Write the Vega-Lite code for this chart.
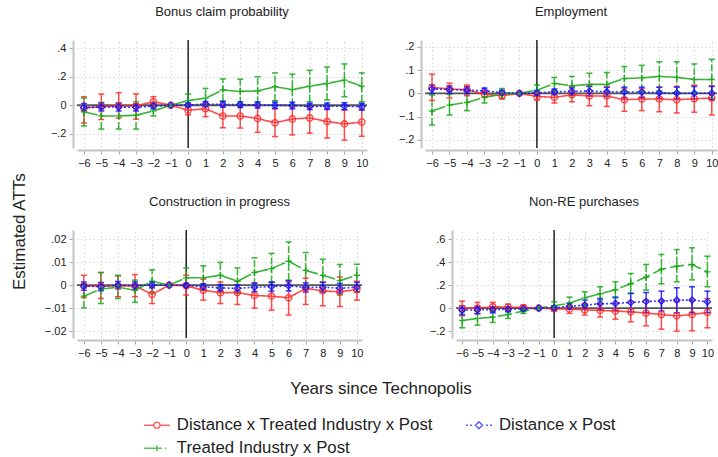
{
  "$schema": "https://vega.github.io/schema/vega-lite/v6.json",
  "padding": {"left": 11, "top": 6, "right": 2, "bottom": 0},
  "background": "white",
  "datasets": {
    "d": [
      {"panel": "bonus", "series": "Distance x Treated Industry x Post", "year": -6, "est": -0.02, "lo": -0.125, "hi": 0.06},
      {"panel": "bonus", "series": "Distance x Treated Industry x Post", "year": -5, "est": -0.01, "lo": -0.1, "hi": 0.079},
      {"panel": "bonus", "series": "Distance x Treated Industry x Post", "year": -4, "est": -0.005, "lo": -0.09, "hi": 0.088},
      {"panel": "bonus", "series": "Distance x Treated Industry x Post", "year": -3, "est": -0.005, "lo": -0.097, "hi": 0.08},
      {"panel": "bonus", "series": "Distance x Treated Industry x Post", "year": -2, "est": 0.025, "lo": -0.014, "hi": 0.06},
      {"panel": "bonus", "series": "Distance x Treated Industry x Post", "year": -1, "est": 0},
      {"panel": "bonus", "series": "Distance x Treated Industry x Post", "year": 0, "est": -0.035, "lo": -0.067, "hi": -0.005},
      {"panel": "bonus", "series": "Distance x Treated Industry x Post", "year": 1, "est": -0.025, "lo": -0.08, "hi": 0.01},
      {"panel": "bonus", "series": "Distance x Treated Industry x Post", "year": 2, "est": -0.075, "lo": -0.158, "hi": 0.005},
      {"panel": "bonus", "series": "Distance x Treated Industry x Post", "year": 3, "est": -0.075, "lo": -0.16, "hi": 0.01},
      {"panel": "bonus", "series": "Distance x Treated Industry x Post", "year": 4, "est": -0.093, "lo": -0.19, "hi": -0.005},
      {"panel": "bonus", "series": "Distance x Treated Industry x Post", "year": 5, "est": -0.123, "lo": -0.22, "hi": -0.025},
      {"panel": "bonus", "series": "Distance x Treated Industry x Post", "year": 6, "est": -0.096, "lo": -0.208, "hi": -0.01},
      {"panel": "bonus", "series": "Distance x Treated Industry x Post", "year": 7, "est": -0.089, "lo": -0.196, "hi": -0.012},
      {"panel": "bonus", "series": "Distance x Treated Industry x Post", "year": 8, "est": -0.114, "lo": -0.23, "hi": -0.025},
      {"panel": "bonus", "series": "Distance x Treated Industry x Post", "year": 9, "est": -0.131, "lo": -0.245, "hi": -0.035},
      {"panel": "bonus", "series": "Distance x Treated Industry x Post", "year": 10, "est": -0.118, "lo": -0.218, "hi": -0.028},
      {"panel": "bonus", "series": "Treated Industry x Post", "year": -6, "est": -0.046, "lo": -0.145, "hi": 0.05},
      {"panel": "bonus", "series": "Treated Industry x Post", "year": -5, "est": -0.075, "lo": -0.167, "hi": 0.02},
      {"panel": "bonus", "series": "Treated Industry x Post", "year": -4, "est": -0.075, "lo": -0.167, "hi": 0.015},
      {"panel": "bonus", "series": "Treated Industry x Post", "year": -3, "est": -0.07, "lo": -0.167, "hi": 0.025},
      {"panel": "bonus", "series": "Treated Industry x Post", "year": -2, "est": -0.04, "lo": -0.075, "hi": 0.0},
      {"panel": "bonus", "series": "Treated Industry x Post", "year": -1, "est": 0},
      {"panel": "bonus", "series": "Treated Industry x Post", "year": 0, "est": 0.033, "lo": -0.01, "hi": 0.079},
      {"panel": "bonus", "series": "Treated Industry x Post", "year": 1, "est": 0.05, "lo": 0.0, "hi": 0.118},
      {"panel": "bonus", "series": "Treated Industry x Post", "year": 2, "est": 0.107, "lo": 0.03, "hi": 0.185},
      {"panel": "bonus", "series": "Treated Industry x Post", "year": 3, "est": 0.097, "lo": 0.01, "hi": 0.183},
      {"panel": "bonus", "series": "Treated Industry x Post", "year": 4, "est": 0.1, "lo": 0.014, "hi": 0.2},
      {"panel": "bonus", "series": "Treated Industry x Post", "year": 5, "est": 0.13, "lo": 0.032, "hi": 0.227},
      {"panel": "bonus", "series": "Treated Industry x Post", "year": 6, "est": 0.11, "lo": 0.0, "hi": 0.218},
      {"panel": "bonus", "series": "Treated Industry x Post", "year": 7, "est": 0.134, "lo": 0.025, "hi": 0.245},
      {"panel": "bonus", "series": "Treated Industry x Post", "year": 8, "est": 0.153, "lo": 0.037, "hi": 0.268},
      {"panel": "bonus", "series": "Treated Industry x Post", "year": 9, "est": 0.176, "lo": 0.06, "hi": 0.29},
      {"panel": "bonus", "series": "Treated Industry x Post", "year": 10, "est": 0.134, "lo": 0.025, "hi": 0.227},
      {"panel": "bonus", "series": "Distance x Post", "year": -6, "est": -0.015, "lo": -0.04, "hi": 0.012},
      {"panel": "bonus", "series": "Distance x Post", "year": -5, "est": -0.012, "lo": -0.04, "hi": 0.015},
      {"panel": "bonus", "series": "Distance x Post", "year": -4, "est": -0.012, "lo": -0.04, "hi": 0.015},
      {"panel": "bonus", "series": "Distance x Post", "year": -3, "est": -0.015, "lo": -0.04, "hi": 0.01},
      {"panel": "bonus", "series": "Distance x Post", "year": -2, "est": -0.005, "lo": -0.025, "hi": 0.015},
      {"panel": "bonus", "series": "Distance x Post", "year": -1, "est": 0},
      {"panel": "bonus", "series": "Distance x Post", "year": 0, "est": 0.002, "lo": -0.012, "hi": 0.016},
      {"panel": "bonus", "series": "Distance x Post", "year": 1, "est": 0.008, "lo": -0.01, "hi": 0.026},
      {"panel": "bonus", "series": "Distance x Post", "year": 2, "est": 0.006, "lo": -0.014, "hi": 0.026},
      {"panel": "bonus", "series": "Distance x Post", "year": 3, "est": 0.004, "lo": -0.016, "hi": 0.024},
      {"panel": "bonus", "series": "Distance x Post", "year": 4, "est": 0.002, "lo": -0.02, "hi": 0.024},
      {"panel": "bonus", "series": "Distance x Post", "year": 5, "est": 0.0, "lo": -0.022, "hi": 0.022},
      {"panel": "bonus", "series": "Distance x Post", "year": 6, "est": -0.002, "lo": -0.025, "hi": 0.021},
      {"panel": "bonus", "series": "Distance x Post", "year": 7, "est": -0.008, "lo": -0.03, "hi": 0.014},
      {"panel": "bonus", "series": "Distance x Post", "year": 8, "est": -0.007, "lo": -0.03, "hi": 0.016},
      {"panel": "bonus", "series": "Distance x Post", "year": 9, "est": -0.006, "lo": -0.03, "hi": 0.018},
      {"panel": "bonus", "series": "Distance x Post", "year": 10, "est": -0.01, "lo": -0.034, "hi": 0.014},

      {"panel": "emp", "series": "Distance x Treated Industry x Post", "year": -6, "est": 0.026, "lo": -0.03, "hi": 0.083},
      {"panel": "emp", "series": "Distance x Treated Industry x Post", "year": -5, "est": 0.019, "lo": -0.02, "hi": 0.044},
      {"panel": "emp", "series": "Distance x Treated Industry x Post", "year": -4, "est": 0.016, "lo": -0.01, "hi": 0.036},
      {"panel": "emp", "series": "Distance x Treated Industry x Post", "year": -3, "est": -0.003, "lo": -0.017, "hi": 0.011},
      {"panel": "emp", "series": "Distance x Treated Industry x Post", "year": -2, "est": -0.01, "lo": -0.024, "hi": 0.004},
      {"panel": "emp", "series": "Distance x Treated Industry x Post", "year": -1, "est": 0},
      {"panel": "emp", "series": "Distance x Treated Industry x Post", "year": 0, "est": -0.013, "lo": -0.029, "hi": 0.004},
      {"panel": "emp", "series": "Distance x Treated Industry x Post", "year": 1, "est": -0.017, "lo": -0.041, "hi": 0.011},
      {"panel": "emp", "series": "Distance x Treated Industry x Post", "year": 2, "est": -0.006, "lo": -0.036, "hi": 0.03},
      {"panel": "emp", "series": "Distance x Treated Industry x Post", "year": 3, "est": -0.011, "lo": -0.053, "hi": 0.036},
      {"panel": "emp", "series": "Distance x Treated Industry x Post", "year": 4, "est": -0.011, "lo": -0.056, "hi": 0.03},
      {"panel": "emp", "series": "Distance x Treated Industry x Post", "year": 5, "est": -0.027, "lo": -0.077, "hi": 0.021},
      {"panel": "emp", "series": "Distance x Treated Industry x Post", "year": 6, "est": -0.024, "lo": -0.074, "hi": 0.021},
      {"panel": "emp", "series": "Distance x Treated Industry x Post", "year": 7, "est": -0.024, "lo": -0.079, "hi": 0.026},
      {"panel": "emp", "series": "Distance x Treated Industry x Post", "year": 8, "est": -0.027, "lo": -0.084, "hi": 0.03},
      {"panel": "emp", "series": "Distance x Treated Industry x Post", "year": 9, "est": -0.023, "lo": -0.081, "hi": 0.036},
      {"panel": "emp", "series": "Distance x Treated Industry x Post", "year": 10, "est": -0.02, "lo": -0.093, "hi": 0.033},
      {"panel": "emp", "series": "Treated Industry x Post", "year": -6, "est": -0.076, "lo": -0.136, "hi": -0.007},
      {"panel": "emp", "series": "Treated Industry x Post", "year": -5, "est": -0.05, "lo": -0.093, "hi": -0.003},
      {"panel": "emp", "series": "Treated Industry x Post", "year": -4, "est": -0.039, "lo": -0.074, "hi": -0.001},
      {"panel": "emp", "series": "Treated Industry x Post", "year": -3, "est": -0.017, "lo": -0.041, "hi": 0.004},
      {"panel": "emp", "series": "Treated Industry x Post", "year": -2, "est": -0.003, "lo": -0.021, "hi": 0.021},
      {"panel": "emp", "series": "Treated Industry x Post", "year": -1, "est": 0},
      {"panel": "emp", "series": "Treated Industry x Post", "year": 0, "est": 0.014, "lo": -0.01, "hi": 0.036},
      {"panel": "emp", "series": "Treated Industry x Post", "year": 1, "est": 0.043, "lo": 0.011, "hi": 0.069},
      {"panel": "emp", "series": "Treated Industry x Post", "year": 2, "est": 0.033, "lo": -0.01, "hi": 0.073},
      {"panel": "emp", "series": "Treated Industry x Post", "year": 3, "est": 0.039, "lo": -0.01, "hi": 0.087},
      {"panel": "emp", "series": "Treated Industry x Post", "year": 4, "est": 0.039, "lo": -0.013, "hi": 0.09},
      {"panel": "emp", "series": "Treated Industry x Post", "year": 5, "est": 0.064, "lo": 0.011, "hi": 0.116},
      {"panel": "emp", "series": "Treated Industry x Post", "year": 6, "est": 0.067, "lo": 0.011, "hi": 0.121},
      {"panel": "emp", "series": "Treated Industry x Post", "year": 7, "est": 0.073, "lo": 0.011, "hi": 0.136},
      {"panel": "emp", "series": "Treated Industry x Post", "year": 8, "est": 0.069, "lo": 0.007, "hi": 0.136},
      {"panel": "emp", "series": "Treated Industry x Post", "year": 9, "est": 0.06, "lo": 0.001, "hi": 0.127},
      {"panel": "emp", "series": "Treated Industry x Post", "year": 10, "est": 0.06, "lo": -0.021, "hi": 0.147},
      {"panel": "emp", "series": "Distance x Post", "year": -6, "est": 0.019, "lo": 0.0, "hi": 0.036},
      {"panel": "emp", "series": "Distance x Post", "year": -5, "est": 0.017, "lo": 0.0, "hi": 0.033},
      {"panel": "emp", "series": "Distance x Post", "year": -4, "est": 0.014, "lo": -0.001, "hi": 0.029},
      {"panel": "emp", "series": "Distance x Post", "year": -3, "est": 0.011, "lo": 0.0, "hi": 0.023},
      {"panel": "emp", "series": "Distance x Post", "year": -2, "est": 0.004, "lo": -0.006, "hi": 0.013},
      {"panel": "emp", "series": "Distance x Post", "year": -1, "est": 0},
      {"panel": "emp", "series": "Distance x Post", "year": 0, "est": 0.002, "lo": -0.01, "hi": 0.011},
      {"panel": "emp", "series": "Distance x Post", "year": 1, "est": 0.007, "lo": -0.006, "hi": 0.019},
      {"panel": "emp", "series": "Distance x Post", "year": 2, "est": 0.009, "lo": -0.007, "hi": 0.024},
      {"panel": "emp", "series": "Distance x Post", "year": 3, "est": 0.01, "lo": -0.01, "hi": 0.03},
      {"panel": "emp", "series": "Distance x Post", "year": 4, "est": 0.007, "lo": -0.013, "hi": 0.026},
      {"panel": "emp", "series": "Distance x Post", "year": 5, "est": 0.006, "lo": -0.019, "hi": 0.027},
      {"panel": "emp", "series": "Distance x Post", "year": 6, "est": 0.006, "lo": -0.019, "hi": 0.027},
      {"panel": "emp", "series": "Distance x Post", "year": 7, "est": 0.003, "lo": -0.021, "hi": 0.027},
      {"panel": "emp", "series": "Distance x Post", "year": 8, "est": 0.001, "lo": -0.024, "hi": 0.027},
      {"panel": "emp", "series": "Distance x Post", "year": 9, "est": 0.001, "lo": -0.024, "hi": 0.03},
      {"panel": "emp", "series": "Distance x Post", "year": 10, "est": 0.001, "lo": -0.027, "hi": 0.03},

      {"panel": "cip", "series": "Distance x Treated Industry x Post", "year": -6, "est": -0.0003, "lo": -0.0054, "hi": 0.0043},
      {"panel": "cip", "series": "Distance x Treated Industry x Post", "year": -5, "est": -0.0004, "lo": -0.0058, "hi": 0.0055},
      {"panel": "cip", "series": "Distance x Treated Industry x Post", "year": -4, "est": -0.0003, "lo": -0.005, "hi": 0.004},
      {"panel": "cip", "series": "Distance x Treated Industry x Post", "year": -3, "est": -0.0003, "lo": -0.005, "hi": 0.0046},
      {"panel": "cip", "series": "Distance x Treated Industry x Post", "year": -2, "est": -0.004, "lo": -0.008, "hi": -0.0005},
      {"panel": "cip", "series": "Distance x Treated Industry x Post", "year": -1, "est": 0},
      {"panel": "cip", "series": "Distance x Treated Industry x Post", "year": 0, "est": -0.0003, "lo": -0.0043, "hi": 0.0043},
      {"panel": "cip", "series": "Distance x Treated Industry x Post", "year": 1, "est": -0.0022, "lo": -0.0065, "hi": 0.0026},
      {"panel": "cip", "series": "Distance x Treated Industry x Post", "year": 2, "est": -0.0033, "lo": -0.008, "hi": 0.0014},
      {"panel": "cip", "series": "Distance x Treated Industry x Post", "year": 3, "est": -0.0032, "lo": -0.0084, "hi": 0.0017},
      {"panel": "cip", "series": "Distance x Treated Industry x Post", "year": 4, "est": -0.0045, "lo": -0.01, "hi": 0.0007},
      {"panel": "cip", "series": "Distance x Treated Industry x Post", "year": 5, "est": -0.0048, "lo": -0.0109, "hi": 0.0012},
      {"panel": "cip", "series": "Distance x Treated Industry x Post", "year": 6, "est": -0.0055, "lo": -0.013, "hi": 0.0014},
      {"panel": "cip", "series": "Distance x Treated Industry x Post", "year": 7, "est": -0.0014, "lo": -0.0084, "hi": 0.003},
      {"panel": "cip", "series": "Distance x Treated Industry x Post", "year": 8, "est": -0.0025, "lo": -0.009, "hi": 0.0014},
      {"panel": "cip", "series": "Distance x Treated Industry x Post", "year": 9, "est": -0.0029, "lo": -0.0093, "hi": 0.0036},
      {"panel": "cip", "series": "Distance x Treated Industry x Post", "year": 10, "est": -0.0019, "lo": -0.0065, "hi": 0.0017},
      {"panel": "cip", "series": "Treated Industry x Post", "year": -6, "est": -0.0048, "lo": -0.0099, "hi": 0.0006},
      {"panel": "cip", "series": "Treated Industry x Post", "year": -5, "est": -0.0017, "lo": -0.008, "hi": 0.0055},
      {"panel": "cip", "series": "Treated Industry x Post", "year": -4, "est": -0.0009, "lo": -0.0058, "hi": 0.0043},
      {"panel": "cip", "series": "Treated Industry x Post", "year": -3, "est": -0.0022, "lo": -0.0075, "hi": 0.0022},
      {"panel": "cip", "series": "Treated Industry x Post", "year": -2, "est": 0.0017, "lo": -0.0032, "hi": 0.0067},
      {"panel": "cip", "series": "Treated Industry x Post", "year": -1, "est": 0},
      {"panel": "cip", "series": "Treated Industry x Post", "year": 0, "est": 0.0032, "lo": -0.0007, "hi": 0.0075},
      {"panel": "cip", "series": "Treated Industry x Post", "year": 1, "est": 0.0032, "lo": -0.0023, "hi": 0.0084},
      {"panel": "cip", "series": "Treated Industry x Post", "year": 2, "est": 0.0043, "lo": -0.0012, "hi": 0.0099},
      {"panel": "cip", "series": "Treated Industry x Post", "year": 3, "est": 0.0017, "lo": -0.0036, "hi": 0.0075},
      {"panel": "cip", "series": "Treated Industry x Post", "year": 4, "est": 0.0055, "lo": 0.0, "hi": 0.0119},
      {"panel": "cip", "series": "Treated Industry x Post", "year": 5, "est": 0.0072, "lo": 0.0012, "hi": 0.0138},
      {"panel": "cip", "series": "Treated Industry x Post", "year": 6, "est": 0.0104, "lo": 0.0022, "hi": 0.0188},
      {"panel": "cip", "series": "Treated Industry x Post", "year": 7, "est": 0.0064, "lo": -0.0012, "hi": 0.0142},
      {"panel": "cip", "series": "Treated Industry x Post", "year": 8, "est": 0.0043, "lo": -0.0026, "hi": 0.0113},
      {"panel": "cip", "series": "Treated Industry x Post", "year": 9, "est": 0.002, "lo": -0.0043, "hi": 0.009},
      {"panel": "cip", "series": "Treated Industry x Post", "year": 10, "est": 0.0043, "lo": -0.0029, "hi": 0.0091},
      {"panel": "cip", "series": "Distance x Post", "year": -6, "est": -0.0004, "lo": -0.0022, "hi": 0.0014},
      {"panel": "cip", "series": "Distance x Post", "year": -5, "est": -0.0006, "lo": -0.0024, "hi": 0.0012},
      {"panel": "cip", "series": "Distance x Post", "year": -4, "est": 0.0, "lo": -0.0016, "hi": 0.0016},
      {"panel": "cip", "series": "Distance x Post", "year": -3, "est": -0.0003, "lo": -0.002, "hi": 0.0014},
      {"panel": "cip", "series": "Distance x Post", "year": -2, "est": 0.0001, "lo": -0.0012, "hi": 0.0014},
      {"panel": "cip", "series": "Distance x Post", "year": -1, "est": 0},
      {"panel": "cip", "series": "Distance x Post", "year": 0, "est": -0.0001, "lo": -0.001, "hi": 0.0008},
      {"panel": "cip", "series": "Distance x Post", "year": 1, "est": -0.0007, "lo": -0.002, "hi": 0.0006},
      {"panel": "cip", "series": "Distance x Post", "year": 2, "est": -0.0012, "lo": -0.0026, "hi": 0.0002},
      {"panel": "cip", "series": "Distance x Post", "year": 3, "est": -0.0014, "lo": -0.003, "hi": 0.0002},
      {"panel": "cip", "series": "Distance x Post", "year": 4, "est": -0.0009, "lo": -0.0028, "hi": 0.001},
      {"panel": "cip", "series": "Distance x Post", "year": 5, "est": -0.0006, "lo": -0.0026, "hi": 0.0014},
      {"panel": "cip", "series": "Distance x Post", "year": 6, "est": -0.0003, "lo": -0.0025, "hi": 0.0019},
      {"panel": "cip", "series": "Distance x Post", "year": 7, "est": -0.001, "lo": -0.003, "hi": 0.001},
      {"panel": "cip", "series": "Distance x Post", "year": 8, "est": -0.0009, "lo": -0.003, "hi": 0.0012},
      {"panel": "cip", "series": "Distance x Post", "year": 9, "est": -0.0013, "lo": -0.0034, "hi": 0.0008},
      {"panel": "cip", "series": "Distance x Post", "year": 10, "est": -0.0009, "lo": -0.003, "hi": 0.0012},

      {"panel": "nonre", "series": "Distance x Treated Industry x Post", "year": -6, "est": -0.003, "lo": -0.067, "hi": 0.06},
      {"panel": "nonre", "series": "Distance x Treated Industry x Post", "year": -5, "est": 0.0, "lo": -0.046, "hi": 0.05},
      {"panel": "nonre", "series": "Distance x Treated Industry x Post", "year": -4, "est": 0.012, "lo": -0.03, "hi": 0.05},
      {"panel": "nonre", "series": "Distance x Treated Industry x Post", "year": -3, "est": 0.009, "lo": -0.02, "hi": 0.035},
      {"panel": "nonre", "series": "Distance x Treated Industry x Post", "year": -2, "est": 0.006, "lo": -0.014, "hi": 0.026},
      {"panel": "nonre", "series": "Distance x Treated Industry x Post", "year": -1, "est": 0},
      {"panel": "nonre", "series": "Distance x Treated Industry x Post", "year": 0, "est": -0.006, "lo": -0.026, "hi": 0.02},
      {"panel": "nonre", "series": "Distance x Treated Industry x Post", "year": 1, "est": -0.009, "lo": -0.046, "hi": 0.026},
      {"panel": "nonre", "series": "Distance x Treated Industry x Post", "year": 2, "est": -0.015, "lo": -0.06, "hi": 0.04},
      {"panel": "nonre", "series": "Distance x Treated Industry x Post", "year": 3, "est": -0.02, "lo": -0.078, "hi": 0.038},
      {"panel": "nonre", "series": "Distance x Treated Industry x Post", "year": 4, "est": -0.026, "lo": -0.096, "hi": 0.04},
      {"panel": "nonre", "series": "Distance x Treated Industry x Post", "year": 5, "est": -0.032, "lo": -0.119, "hi": 0.055},
      {"panel": "nonre", "series": "Distance x Treated Industry x Post", "year": 6, "est": -0.043, "lo": -0.154, "hi": 0.07},
      {"panel": "nonre", "series": "Distance x Treated Industry x Post", "year": 7, "est": -0.055, "lo": -0.183, "hi": 0.07},
      {"panel": "nonre", "series": "Distance x Treated Industry x Post", "year": 8, "est": -0.067, "lo": -0.2, "hi": 0.055},
      {"panel": "nonre", "series": "Distance x Treated Industry x Post", "year": 9, "est": -0.055, "lo": -0.197, "hi": 0.07},
      {"panel": "nonre", "series": "Distance x Treated Industry x Post", "year": 10, "est": -0.038, "lo": -0.171, "hi": 0.084},
      {"panel": "nonre", "series": "Treated Industry x Post", "year": -6, "est": -0.107, "lo": -0.171, "hi": -0.032},
      {"panel": "nonre", "series": "Treated Industry x Post", "year": -5, "est": -0.09, "lo": -0.148, "hi": -0.026},
      {"panel": "nonre", "series": "Treated Industry x Post", "year": -4, "est": -0.078, "lo": -0.125, "hi": -0.026},
      {"panel": "nonre", "series": "Treated Industry x Post", "year": -3, "est": -0.055, "lo": -0.09, "hi": -0.017},
      {"panel": "nonre", "series": "Treated Industry x Post", "year": -2, "est": -0.026, "lo": -0.046, "hi": -0.003},
      {"panel": "nonre", "series": "Treated Industry x Post", "year": -1, "est": 0},
      {"panel": "nonre", "series": "Treated Industry x Post", "year": 0, "est": 0.02, "lo": -0.017, "hi": 0.055},
      {"panel": "nonre", "series": "Treated Industry x Post", "year": 1, "est": 0.043, "lo": 0.0, "hi": 0.096},
      {"panel": "nonre", "series": "Treated Industry x Post", "year": 2, "est": 0.09, "lo": 0.026, "hi": 0.142},
      {"panel": "nonre", "series": "Treated Industry x Post", "year": 3, "est": 0.125, "lo": 0.07, "hi": 0.186},
      {"panel": "nonre", "series": "Treated Industry x Post", "year": 4, "est": 0.16, "lo": 0.09, "hi": 0.229},
      {"panel": "nonre", "series": "Treated Industry x Post", "year": 5, "est": 0.212, "lo": 0.128, "hi": 0.301},
      {"panel": "nonre", "series": "Treated Industry x Post", "year": 6, "est": 0.27, "lo": 0.157, "hi": 0.38},
      {"panel": "nonre", "series": "Treated Industry x Post", "year": 7, "est": 0.339, "lo": 0.212, "hi": 0.467},
      {"panel": "nonre", "series": "Treated Industry x Post", "year": 8, "est": 0.365, "lo": 0.229, "hi": 0.51},
      {"panel": "nonre", "series": "Treated Industry x Post", "year": 9, "est": 0.38, "lo": 0.246, "hi": 0.525},
      {"panel": "nonre", "series": "Treated Industry x Post", "year": 10, "est": 0.316, "lo": 0.186, "hi": 0.452},
      {"panel": "nonre", "series": "Distance x Post", "year": -6, "est": -0.017, "lo": -0.055, "hi": 0.02},
      {"panel": "nonre", "series": "Distance x Post", "year": -5, "est": -0.015, "lo": -0.049, "hi": 0.014},
      {"panel": "nonre", "series": "Distance x Post", "year": -4, "est": -0.012, "lo": -0.041, "hi": 0.012},
      {"panel": "nonre", "series": "Distance x Post", "year": -3, "est": -0.009, "lo": -0.032, "hi": 0.009},
      {"panel": "nonre", "series": "Distance x Post", "year": -2, "est": -0.006, "lo": -0.02, "hi": 0.006},
      {"panel": "nonre", "series": "Distance x Post", "year": -1, "est": 0},
      {"panel": "nonre", "series": "Distance x Post", "year": 0, "est": 0.003, "lo": -0.014, "hi": 0.02},
      {"panel": "nonre", "series": "Distance x Post", "year": 1, "est": 0.015, "lo": -0.009, "hi": 0.043},
      {"panel": "nonre", "series": "Distance x Post", "year": 2, "est": 0.026, "lo": -0.009, "hi": 0.07},
      {"panel": "nonre", "series": "Distance x Post", "year": 3, "est": 0.038, "lo": -0.015, "hi": 0.084},
      {"panel": "nonre", "series": "Distance x Post", "year": 4, "est": 0.041, "lo": -0.02, "hi": 0.096},
      {"panel": "nonre", "series": "Distance x Post", "year": 5, "est": 0.049, "lo": -0.032, "hi": 0.128},
      {"panel": "nonre", "series": "Distance x Post", "year": 6, "est": 0.058, "lo": -0.038, "hi": 0.136},
      {"panel": "nonre", "series": "Distance x Post", "year": 7, "est": 0.061, "lo": -0.026, "hi": 0.148},
      {"panel": "nonre", "series": "Distance x Post", "year": 8, "est": 0.07, "lo": -0.04, "hi": 0.177},
      {"panel": "nonre", "series": "Distance x Post", "year": 9, "est": 0.07, "lo": -0.04, "hi": 0.186},
      {"panel": "nonre", "series": "Distance x Post", "year": 10, "est": 0.055, "lo": -0.04, "hi": 0.148}
    ],
    "legend": [
      {"series": "Distance x Treated Industry x Post", "col": 0, "row": 0},
      {"series": "Distance x Post", "col": 1, "row": 0},
      {"series": "Treated Industry x Post", "col": 0, "row": 1}
    ],
    "ref": [{"v": 0}]
  },
  "data": {"name": "d"},
  "title": {"text": "Estimated ATTs", "orient": "left", "fontSize": 17, "offset": 15, "anchor": "middle"},
  "resolve": {"scale": {"shape": "independent"}},
  "spacing": 18,
  "vconcat": [
    {
      "title": {"text": "Years since Technopolis", "orient": "bottom", "fontSize": 17, "offset": 23, "anchor": "middle"},
      "spacing": 28,
      "vconcat": [
        {
          "spacing": 30,
          "hconcat": [
            {
              "title": "Bonus claim probability",
              "width": 290,
              "height": 108,
              "layer": [
                {"data": {"name": "ref"}, "mark": {"type": "rule", "color": "#555", "strokeWidth": 1.8},
                  "encoding": {"y": {"field": "v", "type": "quantitative", "title": null, "scale": {"domain": [-0.3, 0.458], "nice": false, "zero": false},
                    "axis": {"values": [-0.2, 0, 0.2, 0.4], "format": ".1~f", "labelExpr": "replace(datum.label, '0.', '.')"}}}},
                {"data": {"name": "ref"}, "mark": {"type": "rule", "color": "black", "strokeWidth": 1.3},
                  "encoding": {"x": {"field": "v", "type": "quantitative", "title": null, "scale": {"domain": [-6.4, 10.3], "nice": false, "zero": false},
                    "axis": {"values": [-6, -5, -4, -3, -2, -1, 0, 1, 2, 3, 4, 5, 6, 7, 8, 9, 10], "format": "d"}}}},
                {"transform": [{"filter": "datum.panel === 'bonus' && datum.lo != null"}],
                  "mark": {"type": "rule", "strokeWidth": 1.5, "opacity": 0.85},
                  "encoding": {"x": {"field": "year", "type": "quantitative", "title": null, "scale": {"domain": [-6.4, 10.3], "nice": false, "zero": false},
                      "axis": {"values": [-6, -5, -4, -3, -2, -1, 0, 1, 2, 3, 4, 5, 6, 7, 8, 9, 10], "format": "d"}},
                    "y": {"field": "lo", "type": "quantitative", "title": null, "scale": {"domain": [-0.3, 0.458], "nice": false, "zero": false},
                      "axis": {"values": [-0.2, 0, 0.2, 0.4], "format": ".1~f", "labelExpr": "replace(datum.label, '0.', '.')"}}, "y2": {"field": "hi"},
                    "color": {"field": "series", "type": "nominal", "scale": {"domain": ["Distance x Treated Industry x Post", "Distance x Post", "Treated Industry x Post"], "range": ["#ff2b2b", "#1414ff", "#16a816"]}},
                    "strokeDash": {"condition": {"test": "datum.series === 'Treated Industry x Post'", "value": [7, 2]}, "value": [1, 0]}}},
                {"transform": [{"filter": "datum.panel === 'bonus' && datum.lo != null"}, {"fold": ["lo", "hi"], "as": ["end", "val"]}],
                  "mark": {"type": "tick", "orient": "horizontal", "size": 6, "thickness": 1.5, "opacity": 0.85},
                  "encoding": {"x": {"field": "year", "type": "quantitative", "title": null, "scale": {"domain": [-6.4, 10.3], "nice": false, "zero": false},
                      "axis": {"values": [-6, -5, -4, -3, -2, -1, 0, 1, 2, 3, 4, 5, 6, 7, 8, 9, 10], "format": "d"}},
                    "y": {"field": "val", "type": "quantitative", "title": null, "scale": {"domain": [-0.3, 0.458], "nice": false, "zero": false},
                      "axis": {"values": [-0.2, 0, 0.2, 0.4], "format": ".1~f", "labelExpr": "replace(datum.label, '0.', '.')"}},
                    "color": {"field": "series", "type": "nominal", "scale": {"domain": ["Distance x Treated Industry x Post", "Distance x Post", "Treated Industry x Post"], "range": ["#ff2b2b", "#1414ff", "#16a816"]}}}},
                {"transform": [{"filter": "datum.panel === 'bonus'"}],
                  "mark": {"type": "line", "strokeWidth": 1.6, "opacity": 0.85},
                  "encoding": {"x": {"field": "year", "type": "quantitative", "title": null, "scale": {"domain": [-6.4, 10.3], "nice": false, "zero": false},
                      "axis": {"values": [-6, -5, -4, -3, -2, -1, 0, 1, 2, 3, 4, 5, 6, 7, 8, 9, 10], "format": "d"}},
                    "y": {"field": "est", "type": "quantitative", "title": null, "scale": {"domain": [-0.3, 0.458], "nice": false, "zero": false},
                      "axis": {"values": [-0.2, 0, 0.2, 0.4], "format": ".1~f", "labelExpr": "replace(datum.label, '0.', '.')"}},
                    "color": {"field": "series", "type": "nominal", "scale": {"domain": ["Distance x Treated Industry x Post", "Distance x Post", "Treated Industry x Post"], "range": ["#ff2b2b", "#1414ff", "#16a816"]}},
                    "strokeDash": {"field": "series", "type": "nominal", "scale": {"domain": ["Distance x Treated Industry x Post", "Distance x Post", "Treated Industry x Post"], "range": [[1, 0], [2, 2], [14, 4]]}}}},
                {"transform": [{"filter": "datum.panel === 'bonus'"}],
                  "mark": {"type": "point", "filled": false, "strokeWidth": 1.3, "size": 40, "opacity": 0.9},
                  "encoding": {"x": {"field": "year", "type": "quantitative", "title": null, "scale": {"domain": [-6.4, 10.3], "nice": false, "zero": false},
                      "axis": {"values": [-6, -5, -4, -3, -2, -1, 0, 1, 2, 3, 4, 5, 6, 7, 8, 9, 10], "format": "d"}},
                    "y": {"field": "est", "type": "quantitative", "title": null, "scale": {"domain": [-0.3, 0.458], "nice": false, "zero": false},
                      "axis": {"values": [-0.2, 0, 0.2, 0.4], "format": ".1~f", "labelExpr": "replace(datum.label, '0.', '.')"}},
                    "color": {"field": "series", "type": "nominal", "scale": {"domain": ["Distance x Treated Industry x Post", "Distance x Post", "Treated Industry x Post"], "range": ["#ff2b2b", "#1414ff", "#16a816"]}},
                    "shape": {"field": "series", "type": "nominal", "scale": {"domain": ["Distance x Treated Industry x Post", "Distance x Post", "Treated Industry x Post"], "range": ["circle", "diamond", "M-1,0H1M0,-1V1"]}}}}
              ]
            },
            {
              "title": "Employment",
              "width": 292,
              "height": 108,
              "layer": [
                {"data": {"name": "ref"}, "mark": {"type": "rule", "color": "#555", "strokeWidth": 1.8},
                  "encoding": {"y": {"field": "v", "type": "quantitative", "title": null, "scale": {"domain": [-0.235, 0.23], "nice": false, "zero": false},
                    "axis": {"values": [-0.2, -0.1, 0, 0.1, 0.2], "format": ".1~f", "labelExpr": "replace(datum.label, '0.', '.')"}}}},
                {"data": {"name": "ref"}, "mark": {"type": "rule", "color": "black", "strokeWidth": 1.3},
                  "encoding": {"x": {"field": "v", "type": "quantitative", "title": null, "scale": {"domain": [-6.4, 10.3], "nice": false, "zero": false},
                    "axis": {"values": [-6, -5, -4, -3, -2, -1, 0, 1, 2, 3, 4, 5, 6, 7, 8, 9, 10], "format": "d"}}}},
                {"transform": [{"filter": "datum.panel === 'emp' && datum.lo != null"}],
                  "mark": {"type": "rule", "strokeWidth": 1.5, "opacity": 0.85},
                  "encoding": {"x": {"field": "year", "type": "quantitative", "title": null, "scale": {"domain": [-6.4, 10.3], "nice": false, "zero": false},
                      "axis": {"values": [-6, -5, -4, -3, -2, -1, 0, 1, 2, 3, 4, 5, 6, 7, 8, 9, 10], "format": "d"}},
                    "y": {"field": "lo", "type": "quantitative", "title": null, "scale": {"domain": [-0.235, 0.23], "nice": false, "zero": false},
                      "axis": {"values": [-0.2, -0.1, 0, 0.1, 0.2], "format": ".1~f", "labelExpr": "replace(datum.label, '0.', '.')"}}, "y2": {"field": "hi"},
                    "color": {"field": "series", "type": "nominal", "scale": {"domain": ["Distance x Treated Industry x Post", "Distance x Post", "Treated Industry x Post"], "range": ["#ff2b2b", "#1414ff", "#16a816"]}},
                    "strokeDash": {"condition": {"test": "datum.series === 'Treated Industry x Post'", "value": [7, 2]}, "value": [1, 0]}}},
                {"transform": [{"filter": "datum.panel === 'emp' && datum.lo != null"}, {"fold": ["lo", "hi"], "as": ["end", "val"]}],
                  "mark": {"type": "tick", "orient": "horizontal", "size": 6, "thickness": 1.5, "opacity": 0.85},
                  "encoding": {"x": {"field": "year", "type": "quantitative", "title": null, "scale": {"domain": [-6.4, 10.3], "nice": false, "zero": false},
                      "axis": {"values": [-6, -5, -4, -3, -2, -1, 0, 1, 2, 3, 4, 5, 6, 7, 8, 9, 10], "format": "d"}},
                    "y": {"field": "val", "type": "quantitative", "title": null, "scale": {"domain": [-0.235, 0.23], "nice": false, "zero": false},
                      "axis": {"values": [-0.2, -0.1, 0, 0.1, 0.2], "format": ".1~f", "labelExpr": "replace(datum.label, '0.', '.')"}},
                    "color": {"field": "series", "type": "nominal", "scale": {"domain": ["Distance x Treated Industry x Post", "Distance x Post", "Treated Industry x Post"], "range": ["#ff2b2b", "#1414ff", "#16a816"]}}}},
                {"transform": [{"filter": "datum.panel === 'emp'"}],
                  "mark": {"type": "line", "strokeWidth": 1.6, "opacity": 0.85},
                  "encoding": {"x": {"field": "year", "type": "quantitative", "title": null, "scale": {"domain": [-6.4, 10.3], "nice": false, "zero": false},
                      "axis": {"values": [-6, -5, -4, -3, -2, -1, 0, 1, 2, 3, 4, 5, 6, 7, 8, 9, 10], "format": "d"}},
                    "y": {"field": "est", "type": "quantitative", "title": null, "scale": {"domain": [-0.235, 0.23], "nice": false, "zero": false},
                      "axis": {"values": [-0.2, -0.1, 0, 0.1, 0.2], "format": ".1~f", "labelExpr": "replace(datum.label, '0.', '.')"}},
                    "color": {"field": "series", "type": "nominal", "scale": {"domain": ["Distance x Treated Industry x Post", "Distance x Post", "Treated Industry x Post"], "range": ["#ff2b2b", "#1414ff", "#16a816"]}},
                    "strokeDash": {"field": "series", "type": "nominal", "scale": {"domain": ["Distance x Treated Industry x Post", "Distance x Post", "Treated Industry x Post"], "range": [[1, 0], [2, 2], [14, 4]]}}}},
                {"transform": [{"filter": "datum.panel === 'emp'"}],
                  "mark": {"type": "point", "filled": false, "strokeWidth": 1.3, "size": 40, "opacity": 0.9},
                  "encoding": {"x": {"field": "year", "type": "quantitative", "title": null, "scale": {"domain": [-6.4, 10.3], "nice": false, "zero": false},
                      "axis": {"values": [-6, -5, -4, -3, -2, -1, 0, 1, 2, 3, 4, 5, 6, 7, 8, 9, 10], "format": "d"}},
                    "y": {"field": "est", "type": "quantitative", "title": null, "scale": {"domain": [-0.235, 0.23], "nice": false, "zero": false},
                      "axis": {"values": [-0.2, -0.1, 0, 0.1, 0.2], "format": ".1~f", "labelExpr": "replace(datum.label, '0.', '.')"}},
                    "color": {"field": "series", "type": "nominal", "scale": {"domain": ["Distance x Treated Industry x Post", "Distance x Post", "Treated Industry x Post"], "range": ["#ff2b2b", "#1414ff", "#16a816"]}},
                    "shape": {"field": "series", "type": "nominal", "scale": {"domain": ["Distance x Treated Industry x Post", "Distance x Post", "Treated Industry x Post"], "range": ["circle", "diamond", "M-1,0H1M0,-1V1"]}}}}
              ]
            }
          ]
        },
        {
          "spacing": 66,
          "hconcat": [
            {
              "title": "Construction in progress",
              "width": 285,
              "height": 108,
              "layer": [
                {"data": {"name": "ref"}, "mark": {"type": "rule", "color": "#555", "strokeWidth": 1.8},
                  "encoding": {"y": {"field": "v", "type": "quantitative", "title": null, "scale": {"domain": [-0.023, 0.024], "nice": false, "zero": false},
                    "axis": {"values": [-0.02, -0.01, 0, 0.01, 0.02], "format": ".2~f", "labelExpr": "replace(datum.label, '0.', '.')"}}}},
                {"data": {"name": "ref"}, "mark": {"type": "rule", "color": "black", "strokeWidth": 1.3},
                  "encoding": {"x": {"field": "v", "type": "quantitative", "title": null, "scale": {"domain": [-6.4, 10.3], "nice": false, "zero": false},
                    "axis": {"values": [-6, -5, -4, -3, -2, -1, 0, 1, 2, 3, 4, 5, 6, 7, 8, 9, 10], "format": "d"}}}},
                {"transform": [{"filter": "datum.panel === 'cip' && datum.lo != null"}],
                  "mark": {"type": "rule", "strokeWidth": 1.5, "opacity": 0.85},
                  "encoding": {"x": {"field": "year", "type": "quantitative", "title": null, "scale": {"domain": [-6.4, 10.3], "nice": false, "zero": false},
                      "axis": {"values": [-6, -5, -4, -3, -2, -1, 0, 1, 2, 3, 4, 5, 6, 7, 8, 9, 10], "format": "d"}},
                    "y": {"field": "lo", "type": "quantitative", "title": null, "scale": {"domain": [-0.023, 0.024], "nice": false, "zero": false},
                      "axis": {"values": [-0.02, -0.01, 0, 0.01, 0.02], "format": ".2~f", "labelExpr": "replace(datum.label, '0.', '.')"}}, "y2": {"field": "hi"},
                    "color": {"field": "series", "type": "nominal", "scale": {"domain": ["Distance x Treated Industry x Post", "Distance x Post", "Treated Industry x Post"], "range": ["#ff2b2b", "#1414ff", "#16a816"]}},
                    "strokeDash": {"condition": {"test": "datum.series === 'Treated Industry x Post'", "value": [7, 2]}, "value": [1, 0]}}},
                {"transform": [{"filter": "datum.panel === 'cip' && datum.lo != null"}, {"fold": ["lo", "hi"], "as": ["end", "val"]}],
                  "mark": {"type": "tick", "orient": "horizontal", "size": 6, "thickness": 1.5, "opacity": 0.85},
                  "encoding": {"x": {"field": "year", "type": "quantitative", "title": null, "scale": {"domain": [-6.4, 10.3], "nice": false, "zero": false},
                      "axis": {"values": [-6, -5, -4, -3, -2, -1, 0, 1, 2, 3, 4, 5, 6, 7, 8, 9, 10], "format": "d"}},
                    "y": {"field": "val", "type": "quantitative", "title": null, "scale": {"domain": [-0.023, 0.024], "nice": false, "zero": false},
                      "axis": {"values": [-0.02, -0.01, 0, 0.01, 0.02], "format": ".2~f", "labelExpr": "replace(datum.label, '0.', '.')"}},
                    "color": {"field": "series", "type": "nominal", "scale": {"domain": ["Distance x Treated Industry x Post", "Distance x Post", "Treated Industry x Post"], "range": ["#ff2b2b", "#1414ff", "#16a816"]}}}},
                {"transform": [{"filter": "datum.panel === 'cip'"}],
                  "mark": {"type": "line", "strokeWidth": 1.6, "opacity": 0.85},
                  "encoding": {"x": {"field": "year", "type": "quantitative", "title": null, "scale": {"domain": [-6.4, 10.3], "nice": false, "zero": false},
                      "axis": {"values": [-6, -5, -4, -3, -2, -1, 0, 1, 2, 3, 4, 5, 6, 7, 8, 9, 10], "format": "d"}},
                    "y": {"field": "est", "type": "quantitative", "title": null, "scale": {"domain": [-0.023, 0.024], "nice": false, "zero": false},
                      "axis": {"values": [-0.02, -0.01, 0, 0.01, 0.02], "format": ".2~f", "labelExpr": "replace(datum.label, '0.', '.')"}},
                    "color": {"field": "series", "type": "nominal", "scale": {"domain": ["Distance x Treated Industry x Post", "Distance x Post", "Treated Industry x Post"], "range": ["#ff2b2b", "#1414ff", "#16a816"]}},
                    "strokeDash": {"field": "series", "type": "nominal", "scale": {"domain": ["Distance x Treated Industry x Post", "Distance x Post", "Treated Industry x Post"], "range": [[1, 0], [2, 2], [14, 4]]}}}},
                {"transform": [{"filter": "datum.panel === 'cip'"}],
                  "mark": {"type": "point", "filled": false, "strokeWidth": 1.3, "size": 40, "opacity": 0.9},
                  "encoding": {"x": {"field": "year", "type": "quantitative", "title": null, "scale": {"domain": [-6.4, 10.3], "nice": false, "zero": false},
                      "axis": {"values": [-6, -5, -4, -3, -2, -1, 0, 1, 2, 3, 4, 5, 6, 7, 8, 9, 10], "format": "d"}},
                    "y": {"field": "est", "type": "quantitative", "title": null, "scale": {"domain": [-0.023, 0.024], "nice": false, "zero": false},
                      "axis": {"values": [-0.02, -0.01, 0, 0.01, 0.02], "format": ".2~f", "labelExpr": "replace(datum.label, '0.', '.')"}},
                    "color": {"field": "series", "type": "nominal", "scale": {"domain": ["Distance x Treated Industry x Post", "Distance x Post", "Treated Industry x Post"], "range": ["#ff2b2b", "#1414ff", "#16a816"]}},
                    "shape": {"field": "series", "type": "nominal", "scale": {"domain": ["Distance x Treated Industry x Post", "Distance x Post", "Treated Industry x Post"], "range": ["circle", "diamond", "M-1,0H1M0,-1V1"]}}}}
              ]
            },
            {
              "title": "Non-RE purchases",
              "width": 256,
              "height": 108,
              "layer": [
                {"data": {"name": "ref"}, "mark": {"type": "rule", "color": "#555", "strokeWidth": 1.8},
                  "encoding": {"y": {"field": "v", "type": "quantitative", "title": null, "scale": {"domain": [-0.26, 0.68], "nice": false, "zero": false},
                    "axis": {"values": [-0.2, 0, 0.2, 0.4, 0.6], "format": ".1~f", "labelExpr": "replace(datum.label, '0.', '.')"}}}},
                {"data": {"name": "ref"}, "mark": {"type": "rule", "color": "black", "strokeWidth": 1.3},
                  "encoding": {"x": {"field": "v", "type": "quantitative", "title": null, "scale": {"domain": [-6.4, 10.3], "nice": false, "zero": false},
                    "axis": {"values": [-6, -5, -4, -3, -2, -1, 0, 1, 2, 3, 4, 5, 6, 7, 8, 9, 10], "format": "d"}}}},
                {"transform": [{"filter": "datum.panel === 'nonre' && datum.lo != null"}],
                  "mark": {"type": "rule", "strokeWidth": 1.5, "opacity": 0.85},
                  "encoding": {"x": {"field": "year", "type": "quantitative", "title": null, "scale": {"domain": [-6.4, 10.3], "nice": false, "zero": false},
                      "axis": {"values": [-6, -5, -4, -3, -2, -1, 0, 1, 2, 3, 4, 5, 6, 7, 8, 9, 10], "format": "d"}},
                    "y": {"field": "lo", "type": "quantitative", "title": null, "scale": {"domain": [-0.26, 0.68], "nice": false, "zero": false},
                      "axis": {"values": [-0.2, 0, 0.2, 0.4, 0.6], "format": ".1~f", "labelExpr": "replace(datum.label, '0.', '.')"}}, "y2": {"field": "hi"},
                    "color": {"field": "series", "type": "nominal", "scale": {"domain": ["Distance x Treated Industry x Post", "Distance x Post", "Treated Industry x Post"], "range": ["#ff2b2b", "#1414ff", "#16a816"]}},
                    "strokeDash": {"condition": {"test": "datum.series === 'Treated Industry x Post'", "value": [7, 2]}, "value": [1, 0]}}},
                {"transform": [{"filter": "datum.panel === 'nonre' && datum.lo != null"}, {"fold": ["lo", "hi"], "as": ["end", "val"]}],
                  "mark": {"type": "tick", "orient": "horizontal", "size": 6, "thickness": 1.5, "opacity": 0.85},
                  "encoding": {"x": {"field": "year", "type": "quantitative", "title": null, "scale": {"domain": [-6.4, 10.3], "nice": false, "zero": false},
                      "axis": {"values": [-6, -5, -4, -3, -2, -1, 0, 1, 2, 3, 4, 5, 6, 7, 8, 9, 10], "format": "d"}},
                    "y": {"field": "val", "type": "quantitative", "title": null, "scale": {"domain": [-0.26, 0.68], "nice": false, "zero": false},
                      "axis": {"values": [-0.2, 0, 0.2, 0.4, 0.6], "format": ".1~f", "labelExpr": "replace(datum.label, '0.', '.')"}},
                    "color": {"field": "series", "type": "nominal", "scale": {"domain": ["Distance x Treated Industry x Post", "Distance x Post", "Treated Industry x Post"], "range": ["#ff2b2b", "#1414ff", "#16a816"]}}}},
                {"transform": [{"filter": "datum.panel === 'nonre'"}],
                  "mark": {"type": "line", "strokeWidth": 1.6, "opacity": 0.85},
                  "encoding": {"x": {"field": "year", "type": "quantitative", "title": null, "scale": {"domain": [-6.4, 10.3], "nice": false, "zero": false},
                      "axis": {"values": [-6, -5, -4, -3, -2, -1, 0, 1, 2, 3, 4, 5, 6, 7, 8, 9, 10], "format": "d"}},
                    "y": {"field": "est", "type": "quantitative", "title": null, "scale": {"domain": [-0.26, 0.68], "nice": false, "zero": false},
                      "axis": {"values": [-0.2, 0, 0.2, 0.4, 0.6], "format": ".1~f", "labelExpr": "replace(datum.label, '0.', '.')"}},
                    "color": {"field": "series", "type": "nominal", "scale": {"domain": ["Distance x Treated Industry x Post", "Distance x Post", "Treated Industry x Post"], "range": ["#ff2b2b", "#1414ff", "#16a816"]}},
                    "strokeDash": {"field": "series", "type": "nominal", "scale": {"domain": ["Distance x Treated Industry x Post", "Distance x Post", "Treated Industry x Post"], "range": [[1, 0], [2, 2], [14, 4]]}}}},
                {"transform": [{"filter": "datum.panel === 'nonre'"}],
                  "mark": {"type": "point", "filled": false, "strokeWidth": 1.3, "size": 40, "opacity": 0.9},
                  "encoding": {"x": {"field": "year", "type": "quantitative", "title": null, "scale": {"domain": [-6.4, 10.3], "nice": false, "zero": false},
                      "axis": {"values": [-6, -5, -4, -3, -2, -1, 0, 1, 2, 3, 4, 5, 6, 7, 8, 9, 10], "format": "d"}},
                    "y": {"field": "est", "type": "quantitative", "title": null, "scale": {"domain": [-0.26, 0.68], "nice": false, "zero": false},
                      "axis": {"values": [-0.2, 0, 0.2, 0.4, 0.6], "format": ".1~f", "labelExpr": "replace(datum.label, '0.', '.')"}},
                    "color": {"field": "series", "type": "nominal", "scale": {"domain": ["Distance x Treated Industry x Post", "Distance x Post", "Treated Industry x Post"], "range": ["#ff2b2b", "#1414ff", "#16a816"]}},
                    "shape": {"field": "series", "type": "nominal", "scale": {"domain": ["Distance x Treated Industry x Post", "Distance x Post", "Treated Industry x Post"], "range": ["circle", "diamond", "M-1,0H1M0,-1V1"]}}}}
              ]
            }
          ]
        }
      ]
    },
    {
      "width": 600,
      "height": 40,
      "data": {"name": "legend"},
      "encoding": {
        "x": {"field": "col", "type": "quantitative", "scale": {"domain": [-0.248, 1.615], "nice": false, "zero": false}, "axis": null},
        "y": {"field": "row", "type": "quantitative", "scale": {"domain": [-0.45, 1.3], "reverse": true, "nice": false, "zero": false}, "axis": null}
      },
      "layer": [
        {"mark": {"type": "point", "filled": false, "strokeWidth": 1.5, "size": 400},
          "encoding": {
            "color": {"field": "series", "type": "nominal", "scale": {"domain": ["Distance x Treated Industry x Post", "Distance x Post", "Treated Industry x Post"], "range": ["#ff2b2b", "#1414ff", "#16a816"]}},
            "shape": {"field": "series", "type": "nominal", "scale": {"domain": ["Distance x Treated Industry x Post", "Distance x Post", "Treated Industry x Post"],
              "range": ["M-1.3,0H-0.3M0.3,0H1.3M0.3,0A0.3,0.3 0 1 1 -0.3,0A0.3,0.3 0 1 1 0.3,0", "M-1.3,0H-1.1M-0.9,0H-0.7M0.7,0H0.9M1.1,0H1.3M0,-0.35L0.35,0L0,0.35L-0.35,0Z", "M-1.3,0H0.5M0.8,0H0.95M0,-0.3V0.3"]}}}},
        {"mark": {"type": "text", "align": "left", "baseline": "middle", "dx": 20, "fontSize": 16.8, "color": "#222"},
          "encoding": {"text": {"field": "series"}}}
      ]
    }
  ],
  "config": {
    "font": "Liberation Sans",
    "view": {"stroke": null},
    "legend": {"disable": true},
    "axis": {"labelFontSize": 11, "labelColor": "#222", "domainColor": "#c4c4c4", "domainWidth": 2, "tickColor": "#aaa", "tickSize": 4, "tickWidth": 1,
      "grid": true, "gridColor": "#c4c4c4", "gridDash": [1, 3], "gridWidth": 1, "labelPadding": 3, "labelOverlap": false},
    "axisX": {"offset": 2},
    "axisY": {"offset": 4},
    "title": {"fontSize": 13, "fontWeight": "normal", "color": "#222", "offset": 20}
  }
}
